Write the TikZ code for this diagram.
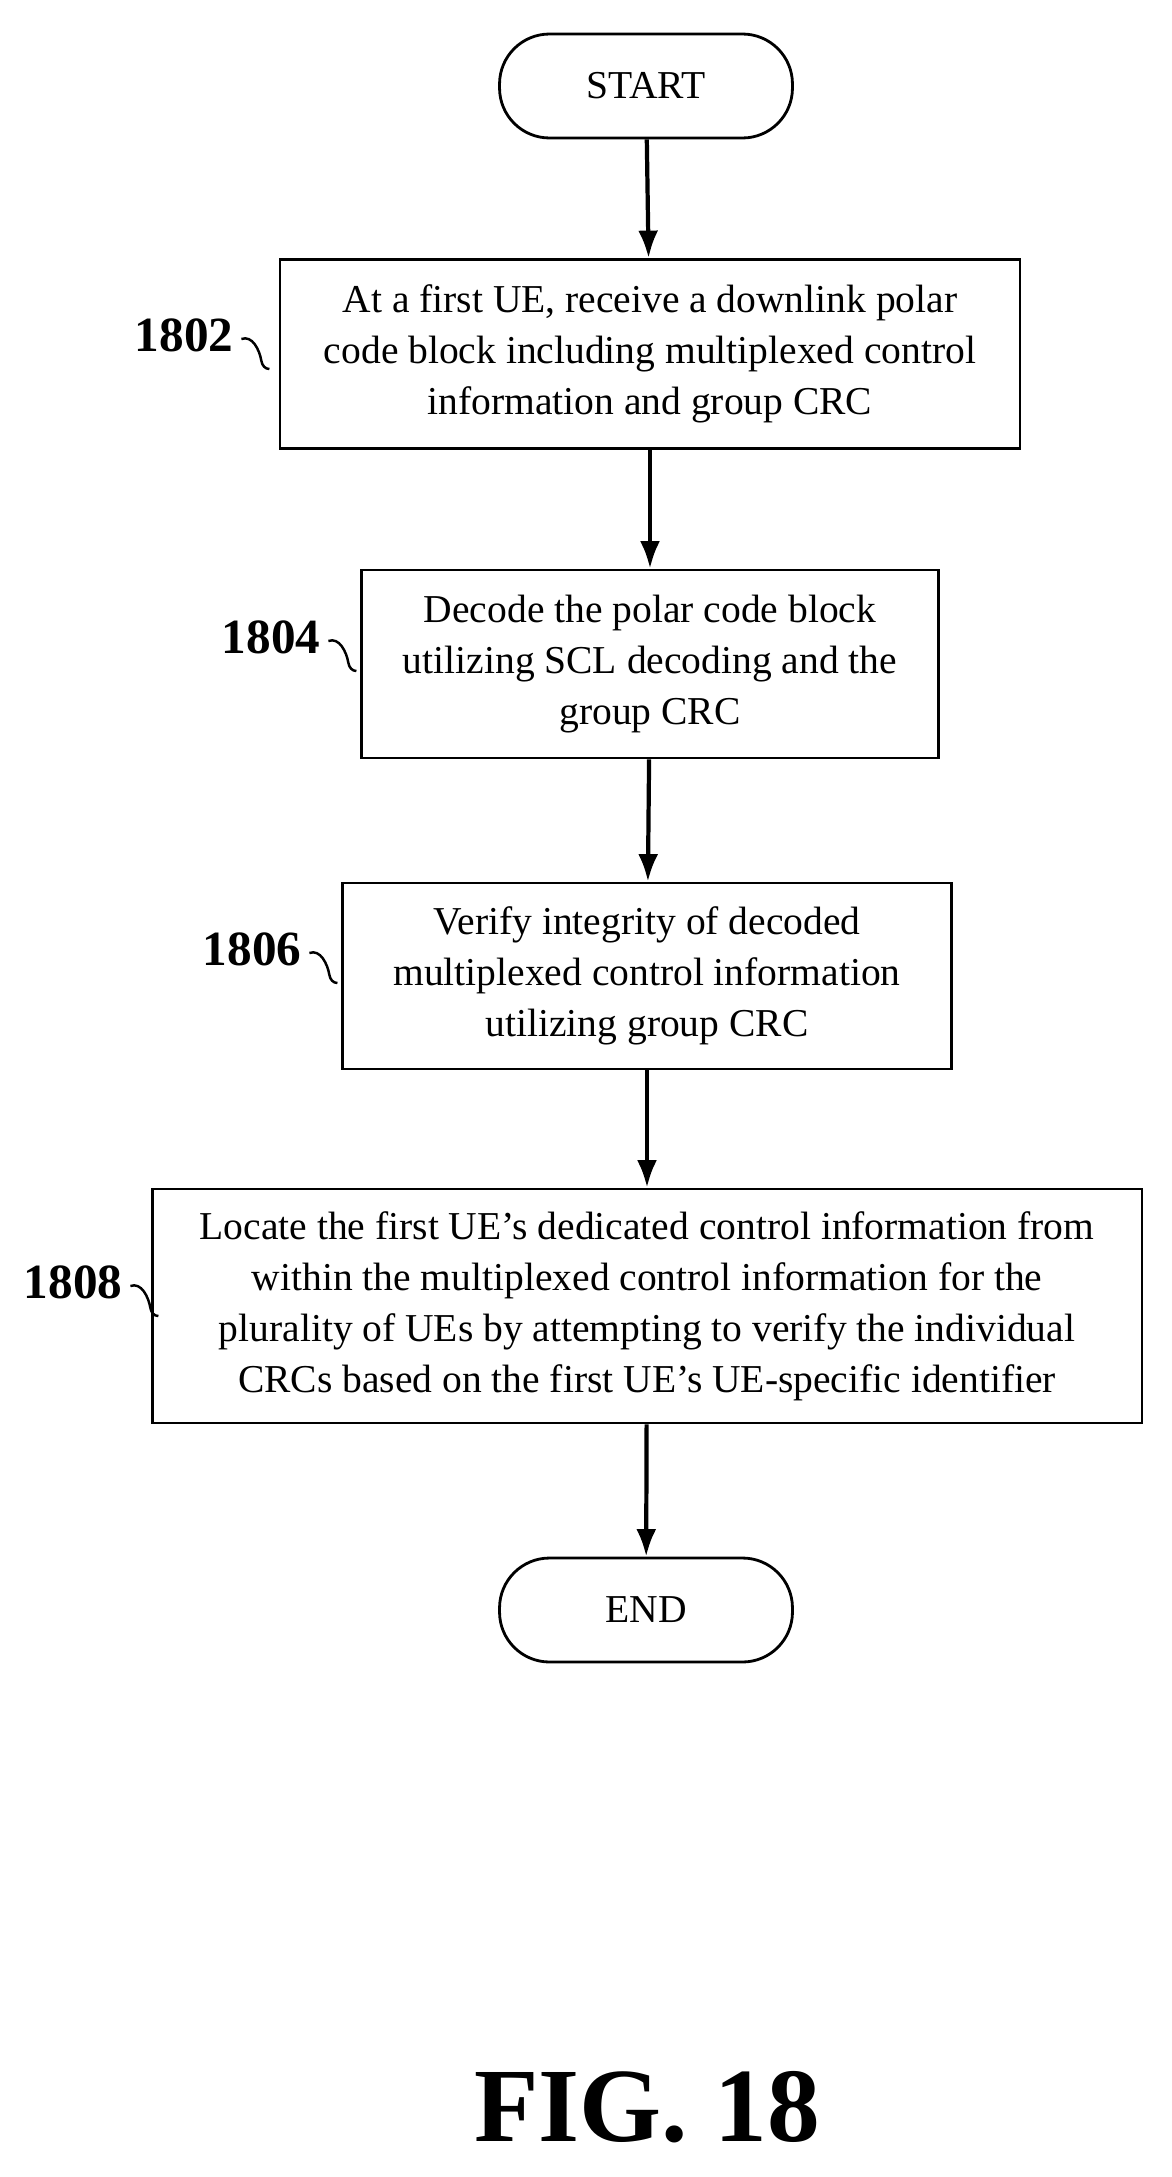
\documentclass[tikz,border=0pt]{standalone}
\usepackage{fontspec}
\setmainfont{Liberation Serif}
\usetikzlibrary{positioning,arrows.meta}

\begin{document}
\begin{tikzpicture}[x=0.02cm,y=-0.02cm,
    box/.style={draw,line width=1.6pt,align=center,inner sep=0pt,
                 font=\fontsize{22.5}{29}\selectfont},
    term/.style={box,rounded corners=1cm,minimum width=5.86cm,minimum height=2.08cm},
    lbl/.style={font=\fontsize{28}{30}\selectfont\bfseries},
    flow/.style={-{Latex[length=0.55cm,width=0.4cm]},line width=2.4pt}]
    \useasboundingbox (0,0) rectangle (1172,2177);
    % Add the boxes
        \node[term] (start) at (646,86) {START};
		\node[box,minimum width=14.8cm,minimum height=3.78cm] (s1802) at (650,354)
			{At a first UE, receive a downlink polar\\code block including multiplexed control\\information and group CRC};
		\node[box,minimum width=11.54cm,minimum height=3.76cm] (s1804) at (650,664)
			{Decode the polar code block\\utilizing SCL decoding and the\\group CRC};
		\node[box,minimum width=12.18cm,minimum height=3.72cm] (s1806) at (647,976)
			{Verify integrity of decoded\\multiplexed control information\\utilizing group CRC};
		\node[box,minimum width=19.8cm,minimum height=4.68cm] (s1808) at (647,1306)
			{Locate the first UE's dedicated control information from\\within the multiplexed control information for the\\plurality of UEs by attempting to verify the individual\\CRCs based on the first UE's UE-specific identifier};
		\node[term] (end) at (646,1610) {END};
    % Add the labels
		\node[lbl] (l1802) at (184,335) {1802};
		\node[lbl] (l1804) at (271,637) {1804};
		\node[lbl] (l1806) at (252,949) {1806};
		\node[lbl] (l1808) at (73,1282) {1808};
		\node[font=\fontsize{60}{62}\selectfont\bfseries] (fig) at (647,2107) {FIG. 18};

		\draw[flow] (start) -- (s1802);
		\draw[flow] (s1802) -- (s1804);
		\draw[flow] (s1804) -- (s1806);
		\draw[flow] (s1806) -- (s1808);
		\draw[flow] (s1808) -- (end);

		\foreach \n in {1802,1804,1806,1808}
			\draw[line width=1.4pt] (l\n.east) ++(2,4) to[out=20,in=100] ++(20,22) to[out=-80,in=180] ++(8,8);
    \end{tikzpicture}
\end{document}
